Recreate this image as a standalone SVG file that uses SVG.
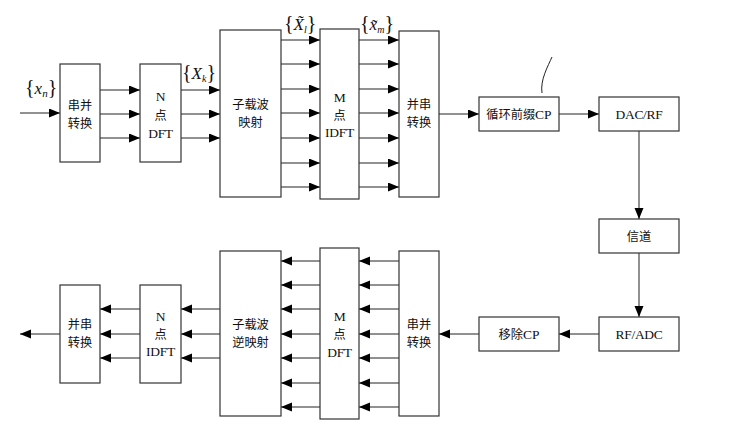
<svg xmlns="http://www.w3.org/2000/svg" width="731" height="448" viewBox="0 0 731 448">
<defs>
<marker id="ah" markerUnits="userSpaceOnUse" markerWidth="12" markerHeight="10" refX="11" refY="4.5" orient="auto">
<path d="M0,0 L11,4.5 L0,9 z" fill="#000"/>
</marker>
<style>
.box{fill:#fff;stroke:#333;stroke-width:1.2}
.ln{stroke:#222;stroke-width:1;fill:none}
.ar{stroke:#222;stroke-width:1;fill:none;marker-end:url(#ah)}
.cn{font-family:"Noto Sans CJK SC","Liberation Serif",serif;font-size:12.2px;fill:#111;text-anchor:middle}
.lt{font-family:"Liberation Serif","Noto Sans CJK SC",serif;font-size:13.5px;fill:#111;text-anchor:middle;letter-spacing:-0.3px}
.mx{font-family:"Liberation Serif",serif;font-size:17px;fill:#111;font-style:italic}
.br{font-style:normal;font-size:20px}
</style>
</defs>
<rect width="731" height="448" fill="#fff"/>

<g id="connectors">
<line class="ar" x1="20" y1="113" x2="60" y2="113"/>
<line class="ar" x1="100" y1="90" x2="140" y2="90"/>
<line class="ar" x1="100" y1="114" x2="140" y2="114"/>
<line class="ar" x1="100" y1="138" x2="140" y2="138"/>
<line class="ar" x1="181" y1="90" x2="220" y2="90"/>
<line class="ar" x1="181" y1="114" x2="220" y2="114"/>
<line class="ar" x1="181" y1="138" x2="220" y2="138"/>
<line class="ar" x1="281" y1="40" x2="320" y2="40"/>
<line class="ar" x1="281" y1="64" x2="320" y2="64"/>
<line class="ar" x1="281" y1="89" x2="320" y2="89"/>
<line class="ar" x1="281" y1="113" x2="320" y2="113"/>
<line class="ar" x1="281" y1="138" x2="320" y2="138"/>
<line class="ar" x1="281" y1="163" x2="320" y2="163"/>
<line class="ar" x1="281" y1="187" x2="320" y2="187"/>
<line class="ar" x1="359" y1="40" x2="399" y2="40"/>
<line class="ar" x1="359" y1="64" x2="399" y2="64"/>
<line class="ar" x1="359" y1="89" x2="399" y2="89"/>
<line class="ar" x1="359" y1="113" x2="399" y2="113"/>
<line class="ar" x1="359" y1="138" x2="399" y2="138"/>
<line class="ar" x1="359" y1="163" x2="399" y2="163"/>
<line class="ar" x1="359" y1="187" x2="399" y2="187"/>
<line class="ar" x1="439" y1="114" x2="479" y2="114"/>
<line class="ar" x1="559" y1="114" x2="599" y2="114"/>
<line class="ar" x1="639" y1="131" x2="639" y2="219"/>
<line class="ar" x1="639" y1="253" x2="639" y2="317"/>
<line class="ar" x1="599" y1="334" x2="559" y2="334"/>
<line class="ar" x1="479" y1="334" x2="439" y2="334"/>
<line class="ar" x1="399" y1="261" x2="359" y2="261"/>
<line class="ar" x1="399" y1="285" x2="359" y2="285"/>
<line class="ar" x1="399" y1="309" x2="359" y2="309"/>
<line class="ar" x1="399" y1="334" x2="359" y2="334"/>
<line class="ar" x1="399" y1="358" x2="359" y2="358"/>
<line class="ar" x1="399" y1="383" x2="359" y2="383"/>
<line class="ar" x1="399" y1="407" x2="359" y2="407"/>
<line class="ar" x1="320" y1="261" x2="281" y2="261"/>
<line class="ar" x1="320" y1="285" x2="281" y2="285"/>
<line class="ar" x1="320" y1="309" x2="281" y2="309"/>
<line class="ar" x1="320" y1="334" x2="281" y2="334"/>
<line class="ar" x1="320" y1="358" x2="281" y2="358"/>
<line class="ar" x1="320" y1="383" x2="281" y2="383"/>
<line class="ar" x1="320" y1="407" x2="281" y2="407"/>
<line class="ar" x1="220" y1="309" x2="181" y2="309"/>
<line class="ar" x1="220" y1="334" x2="181" y2="334"/>
<line class="ar" x1="220" y1="358" x2="181" y2="358"/>
<line class="ar" x1="140" y1="309" x2="100" y2="309"/>
<line class="ar" x1="140" y1="334" x2="100" y2="334"/>
<line class="ar" x1="140" y1="358" x2="100" y2="358"/>
<line class="ar" x1="60" y1="334" x2="20" y2="334"/>
<path class="ln" d="M552,57 C548,66 540,80 542,93"/>
</g>

<g id="sp1"><rect class="box" x="60" y="64" width="40" height="98"/>
<text class="cn" x="80" y="110">串并</text><text class="cn" x="80" y="128">转换</text></g>
<g id="dft1"><rect class="box" x="140" y="64" width="41" height="98"/>
<text class="lt" x="160.5" y="101">N</text><text class="cn" x="160.5" y="120">点</text><text class="lt" x="160.5" y="138">DFT</text></g>
<g id="map"><rect class="box" x="220" y="30" width="61" height="167"/>
<text class="cn" x="250.5" y="109">子载波</text><text class="cn" x="250.5" y="127">映射</text></g>
<g id="idft1"><rect class="box" x="320" y="29" width="39" height="170"/>
<text class="lt" x="339.5" y="102">M</text><text class="cn" x="339.5" y="120">点</text><text class="lt" x="339.5" y="137">IDFT</text></g>
<g id="ps1"><rect class="box" x="399" y="31" width="40" height="166"/>
<text class="cn" x="419" y="109">并串</text><text class="cn" x="419" y="127">转换</text></g>
<g id="cp"><rect class="box" x="479" y="97" width="80" height="34"/>
<text class="cn" x="519" y="119">循环前缀<tspan font-family="Liberation Serif" font-size="13.5">CP</tspan></text></g>
<g id="dac"><rect class="box" x="599" y="97" width="80" height="34"/>
<text class="lt" x="639" y="119">DAC/RF</text></g>
<g id="ch"><rect class="box" x="599" y="219" width="80" height="34"/>
<text class="cn" x="639" y="241">信道</text></g>
<g id="adc"><rect class="box" x="599" y="317" width="80" height="34"/>
<text class="lt" x="639" y="339">RF/ADC</text></g>
<g id="rcp"><rect class="box" x="479" y="317" width="80" height="34"/>
<text class="cn" x="519" y="339">移除<tspan font-family="Liberation Serif" font-size="13.5">CP</tspan></text></g>
<g id="sp2"><rect class="box" x="399" y="251" width="40" height="165"/>
<text class="cn" x="419" y="329">串并</text><text class="cn" x="419" y="347">转换</text></g>
<g id="dft2"><rect class="box" x="320" y="248" width="39" height="171"/>
<text class="lt" x="339.5" y="321">M</text><text class="cn" x="339.5" y="339">点</text><text class="lt" x="339.5" y="357">DFT</text></g>
<g id="demap"><rect class="box" x="220" y="251" width="61" height="165"/>
<text class="cn" x="250.5" y="329">子载波</text><text class="cn" x="250.5" y="347">逆映射</text></g>
<g id="idft2"><rect class="box" x="140" y="285" width="41" height="98"/>
<text class="lt" x="160.5" y="321">N</text><text class="cn" x="160.5" y="339">点</text><text class="lt" x="160.5" y="356">IDFT</text></g>
<g id="ps2"><rect class="box" x="60" y="285" width="40" height="98"/>
<text class="cn" x="80" y="329">并串</text><text class="cn" x="80" y="347">转换</text></g>

<g id="labels">
<text class="mx" x="25" y="94"><tspan class="br">{</tspan>x<tspan font-size="11" dy="3">n</tspan><tspan class="br" dy="-3">}</tspan></text>
<text class="mx" x="182" y="79"><tspan class="br">{</tspan>X<tspan font-size="10" dy="3">k</tspan><tspan class="br" dy="-3">}</tspan></text>
<text class="mx" x="284" y="30"><tspan class="br">{</tspan>X&#x303;<tspan font-size="10" dy="3">l</tspan><tspan class="br" dy="-3">}</tspan></text>
<text class="mx" x="360" y="30"><tspan class="br">{</tspan>x&#x303;<tspan font-size="10" dy="3">m</tspan><tspan class="br" dy="-3">}</tspan></text>
</g>
</svg>
